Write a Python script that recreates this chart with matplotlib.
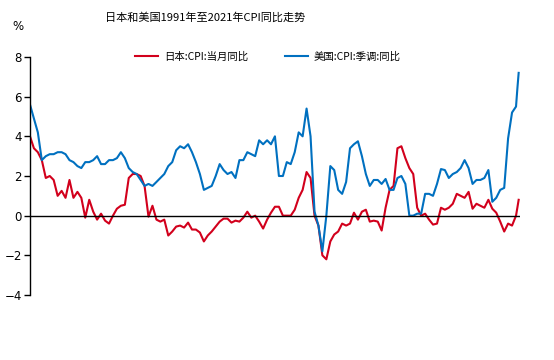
import numpy as np
import pandas as pd
import matplotlib
matplotlib.use("Agg")
import matplotlib.pyplot as plt

# quarterly readings Jan/Apr/Jul/Oct 1991 - Oct 2021, plus Nov and Dec 2021
dates = pd.date_range("1991-01-01", "2021-10-01", freq="3MS").append(
    pd.to_datetime(["2021-11-01", "2021-12-01"]))

japan_cpi = [
    4.0, 3.4, 3.2, 2.8, 1.9, 2.0, 1.8, 1.0, 1.25, 0.9, 1.8, 0.9, 1.2, 0.9, -0.1, 0.8,
    0.2, -0.2, 0.1, -0.25, -0.4, 0.0, 0.35, 0.5, 0.55, 1.9, 2.1, 2.1, 2.0, 1.5, -0.05, 0.5,
    -0.2, -0.3, -0.2, -1.0, -0.8, -0.55, -0.5, -0.6, -0.35, -0.7, -0.7, -0.85, -1.3, -1.0, -0.8, -0.55,
    -0.3, -0.15, -0.15, -0.35, -0.25, -0.3, -0.1, 0.2, -0.1, 0.0, -0.3, -0.65, -0.2, 0.15, 0.45, 0.45,
    0.0, 0.0, 0.0, 0.3, 0.9, 1.3, 2.2, 1.9, 0.0, -0.5, -2.0, -2.2, -1.3, -0.95, -0.8, -0.4,
    -0.5, -0.4, 0.15, -0.2, 0.2, 0.3, -0.3, -0.25, -0.3, -0.75, 0.4, 1.3, 1.5, 3.4, 3.5, 2.9,
    2.4, 2.1, 0.4, 0.0, 0.1, -0.2, -0.45, -0.4, 0.4, 0.3, 0.4, 0.6, 1.1, 1.0, 0.9, 1.2,
    0.35, 0.6, 0.5, 0.4, 0.8, 0.35, 0.15, -0.3, -0.8, -0.4, -0.5, 0.0, 0.4, 0.8,
]

us_cpi = [
    5.6, 4.9, 4.2, 2.8, 3.0, 3.1, 3.1, 3.2, 3.2, 3.1, 2.8, 2.7, 2.5, 2.4, 2.7, 2.7,
    2.8, 3.0, 2.6, 2.6, 2.8, 2.8, 2.9, 3.2, 2.9, 2.4, 2.2, 2.1, 1.8, 1.5, 1.6, 1.5,
    1.7, 1.9, 2.1, 2.5, 2.7, 3.3, 3.5, 3.4, 3.6, 3.2, 2.7, 2.1, 1.3, 1.4, 1.5, 2.0,
    2.6, 2.3, 2.1, 2.2, 1.9, 2.8, 2.8, 3.2, 3.1, 3.0, 3.8, 3.6, 3.8, 3.6, 4.0, 2.0,
    2.0, 2.7, 2.6, 3.2, 4.2, 4.0, 5.4, 4.0, 0.2, -0.5, -1.8, 0.0, 2.5, 2.3, 1.3, 1.1,
    1.7, 3.4, 3.6, 3.75, 3.0, 2.1, 1.5, 1.8, 1.8, 1.6, 1.85, 1.3, 1.3, 1.9, 2.0, 1.6,
    0.0, 0.0, 0.1, 0.1, 1.1, 1.1, 1.0, 1.6, 2.35, 2.3, 1.9, 2.1, 2.2, 2.4, 2.8, 2.4,
    1.6, 1.8, 1.8, 1.9, 2.3, 0.7, 0.9, 1.3, 1.4, 3.9, 5.2, 5.5, 6.4, 7.2,
]

title = "日本和美国1991年至2021年CPI同比走势"
labels = ["日本:CPI:当月同比", "美国:CPI:季调:同比"]
colors = ["#d2001c", "#0070c0"]
cjk = ["Noto Sans CJK SC", "DejaVu Sans"]

fig = plt.figure(figsize=(5.54, 3.6), dpi=100)
ax = fig.add_axes([30 / 554, 65 / 360, 490 / 554, 238 / 360])

ax.plot(dates, japan_cpi, color=colors[0], lw=1.5, label=labels[0])
ax.plot(dates, us_cpi, color=colors[1], lw=1.5, label=labels[1])
ax.axhline(0, color="black", lw=1)

ax.set_ylim(-4, 8)
ax.set_yticks(np.arange(-4, 9, 2))
ax.set_xlim(pd.Timestamp("1991-01-01"), pd.Timestamp("2022-01-01"))
ax.set_xticks([])
for s in ["top", "right", "bottom"]:
    ax.spines[s].set_visible(False)
ax.spines["left"].set_linewidth(1)
ax.tick_params(axis="y", length=4, width=1, labelsize=8.5, pad=2)

fig.text(205 / 554, 1 - 18 / 360, title, ha="center", va="center",
         fontsize=8, family=cjk)
fig.text(18 / 554, 1 - 27 / 360, "%", ha="center", va="center", fontsize=8.5)

leg = fig.legend(loc="center", bbox_to_anchor=(268 / 554, 1 - 57 / 360), ncol=2,
                 frameon=False, prop={"family": cjk, "size": 7.5},
                 handlelength=2.2, columnspacing=3.5, handletextpad=0.6)

fig.savefig("out.png", dpi=100)
